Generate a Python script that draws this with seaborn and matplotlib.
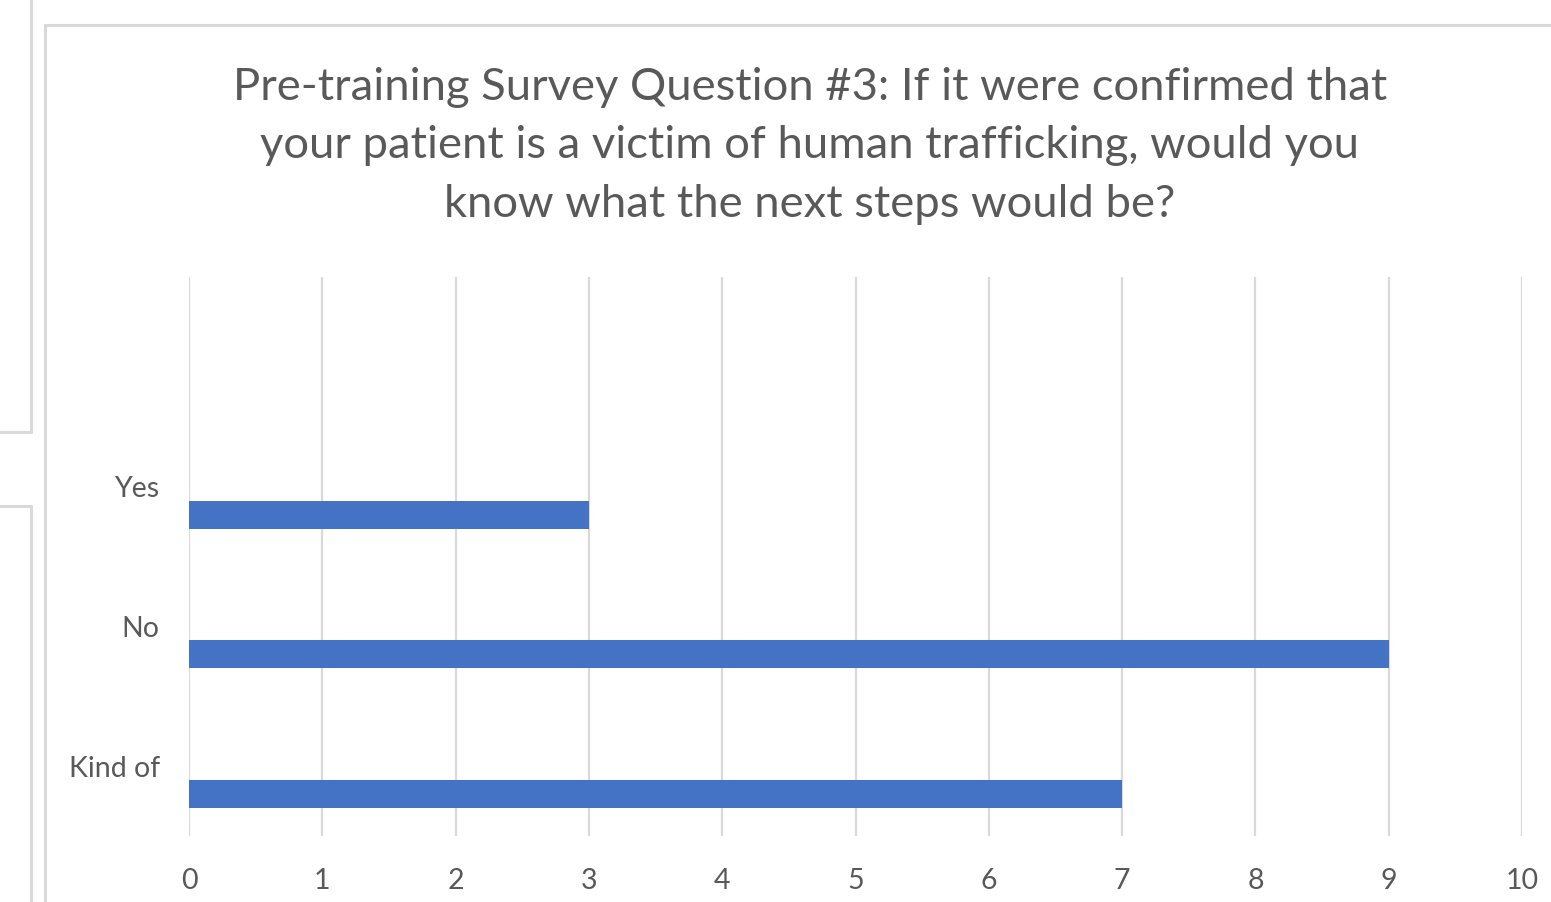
import pandas as pd
import numpy as np
import matplotlib.pyplot as plt
import seaborn as sns
from matplotlib.lines import Line2D

# Данные опроса
categories = ['Yes', 'No', 'Kind of']
counts = [3, 9, 7]
blank_counts = [0, 0, 0]
x_ticks = list(range(0, 11))

title = ("Pre-training Survey Question #3: If it were confirmed that\n"
         "your patient is a victim of human trafficking, would you\n"
         "know what the next steps would be?")

df = pd.concat([
    pd.DataFrame({'Answer': categories, 'Count': blank_counts, 'Series': 'blank'}),
    pd.DataFrame({'Answer': categories, 'Count': counts, 'Series': 'Count'}),
])

sns.set_style('white')
plt.rcParams['font.family'] = ['Lato', 'DejaVu Sans']

grey_text = '#595959'
grid_col = '#d9d9d9'

fig = plt.figure(figsize=(15.51, 9.02), dpi=100)
ax = fig.add_axes([189 / 1551, 1 - 836 / 902, (1522 - 189) / 1551, (836 - 277) / 902])

# пустая серия даёт смещение полосы вниз, как в Excel
sns.barplot(data=df, x='Count', y='Answer', hue='Series', hue_order=['blank', 'Count'],
            orient='h', order=categories, palette={'blank': 'white', 'Count': '#4472C4'},
            saturation=1, width=0.8, gap=0.5, linewidth=0, legend=False, ax=ax)

ax.set_xlim(0, 10)
ax.set_ylim(2.5, -1.5)
ax.set_xticks(x_ticks)
ax.xaxis.grid(True, color=grid_col, linewidth=1.6)
ax.set_axisbelow(True)
for s in ax.spines.values():
    s.set_visible(False)
ax.set_xlabel('')
ax.set_ylabel('')
ax.tick_params(axis='x', length=0, pad=23, labelsize=20.5, labelcolor=grey_text)
ax.tick_params(axis='y', length=0, pad=21, labelsize=20.5, labelcolor=grey_text)

fig.text(810 / 1551, 1 - 146 / 902, title, ha='center', va='center', fontsize=32.7,
         color=grey_text, linespacing=1.54)

# рамки соседних объектов листа
def fline(xs, ys):
    fig.add_artist(Line2D([x / 1551 for x in xs], [1 - y / 902 for y in ys],
                          color=grid_col, linewidth=2.2, transform=fig.transFigure))

fline([30.5, 30.5], [0, 432])
fline([0, 30.5], [432, 432])
fline([0, 30.5], [506, 506])
fline([30.5, 30.5], [506, 902])
fline([44.5, 44.5], [24.5, 902])
fline([44.5, 1551], [24.5, 24.5])

fig.savefig('out.png', dpi=100)
